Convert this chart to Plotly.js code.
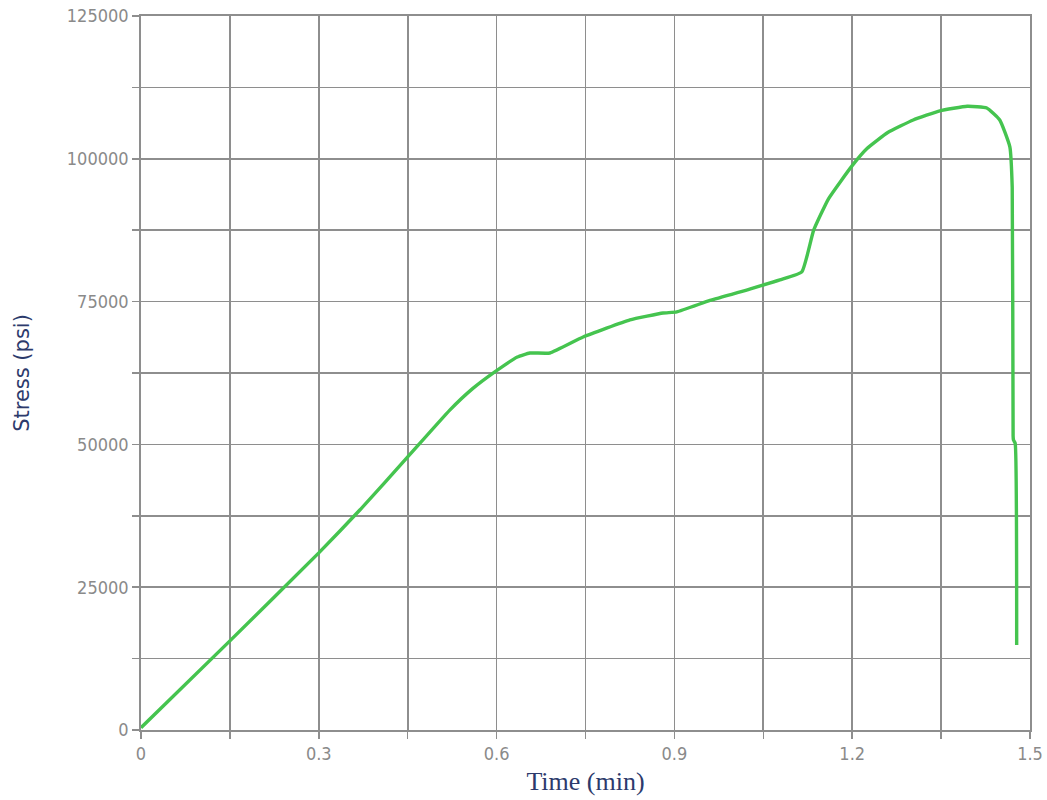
<!DOCTYPE html>
<html>
<head>
<meta charset="utf-8">
<script src="https://cdn.plot.ly/plotly-3.0.1.min.js"></script>
<style>html,body{margin:0;padding:0;background:#fff;}#chart{width:1047px;height:800px;}</style>
</head>
<body>
<div id="chart"></div>
<script>
var timeMin = [0, 0.15, 0.3, 0.370, 0.45, 0.521, 0.560, 0.597, 0.635, 0.656, 0.690, 0.746, 0.825, 0.881, 0.904, 0.960, 1.027, 1.078, 1.115, 1.135, 1.160, 1.200, 1.225, 1.260, 1.303, 1.348, 1.394, 1.427, 1.449, 1.466, 1.470, 1.4715, 1.472, 1.475, 1.4775];
var stressPsi = [400, 15600, 31000, 38600, 47800, 56000, 59800, 62700, 65300, 66000, 66000, 68800, 71800, 73000, 73200, 75200, 77200, 78800, 80200, 87500, 93000, 98800, 101800, 104600, 106800, 108400, 109200, 108900, 106800, 102100, 95000, 51500, 50800, 50200, 14900];
var xTicks = [0, 0.3, 0.6, 0.9, 1.2, 1.5];
var xTickText = ['0', '0.3', '0.6', '0.9', '1.2', '1.5'];
var yTicks = [0, 25000, 50000, 75000, 100000, 125000];
var yTickText = ['0', '25000', '50000', '75000', '100000', '125000'];

var gridColor = '#8e8e8e';
var tickFont = {family: 'DejaVu Sans Condensed, DejaVu Sans, sans-serif', size: 18, color: '#8a8a8a'};
var xTitleFont = {family: 'Liberation Serif, Times New Roman, serif', size: 26, color: '#2c3a6c'};
var yTitleFont = {family: 'DejaVu Sans, sans-serif', size: 21, color: '#2c3a6c'};

var trace = {
  x: timeMin, y: stressPsi, type: 'scatter', mode: 'lines',
  line: {color: '#45c44f', width: 3.4, shape: 'spline', smoothing: 0.4},
  hoverinfo: 'x+y'
};

var layout = {
  width: 1047, height: 800,
  margin: {l: 141, r: 17, t: 16, b: 70},
  paper_bgcolor: '#ffffff', plot_bgcolor: '#ffffff',
  showlegend: false,
  xaxis: {
    range: [0, 1.5], tickmode: 'array', tickvals: xTicks, ticktext: xTickText,
    showgrid: true, gridcolor: gridColor, gridwidth: 1.6,
    showline: true, linecolor: gridColor, linewidth: 1.8, mirror: true,
    ticks: 'outside', ticklen: 7, tickcolor: gridColor, tickwidth: 1.5, zeroline: false,
    tickfont: tickFont,
    minor: {dtick: 0.15, tick0: 0, showgrid: true, gridcolor: gridColor, gridwidth: 1.6, ticks: 'outside', ticklen: 7, tickcolor: gridColor, tickwidth: 1.5},
    title: {text: 'Time (min)', font: xTitleFont, standoff: 8}
  },
  yaxis: {
    range: [0, 125000], tickmode: 'array', tickvals: yTicks, ticktext: yTickText,
    showgrid: true, gridcolor: gridColor, gridwidth: 1.6,
    showline: true, linecolor: gridColor, linewidth: 1.8, mirror: true,
    ticks: 'outside', ticklen: 7, tickcolor: gridColor, tickwidth: 1.5, zeroline: false,
    tickfont: tickFont,
    minor: {dtick: 12500, tick0: 0, showgrid: true, gridcolor: gridColor, gridwidth: 1.6, ticks: 'outside', ticklen: 7, tickcolor: gridColor, tickwidth: 1.5},
    title: {text: 'Stress (psi)', font: yTitleFont, standoff: 31}
  }
};

Plotly.newPlot('chart', [trace], layout, {displayModeBar: false, staticPlot: true});
</script>
</body>
</html>
